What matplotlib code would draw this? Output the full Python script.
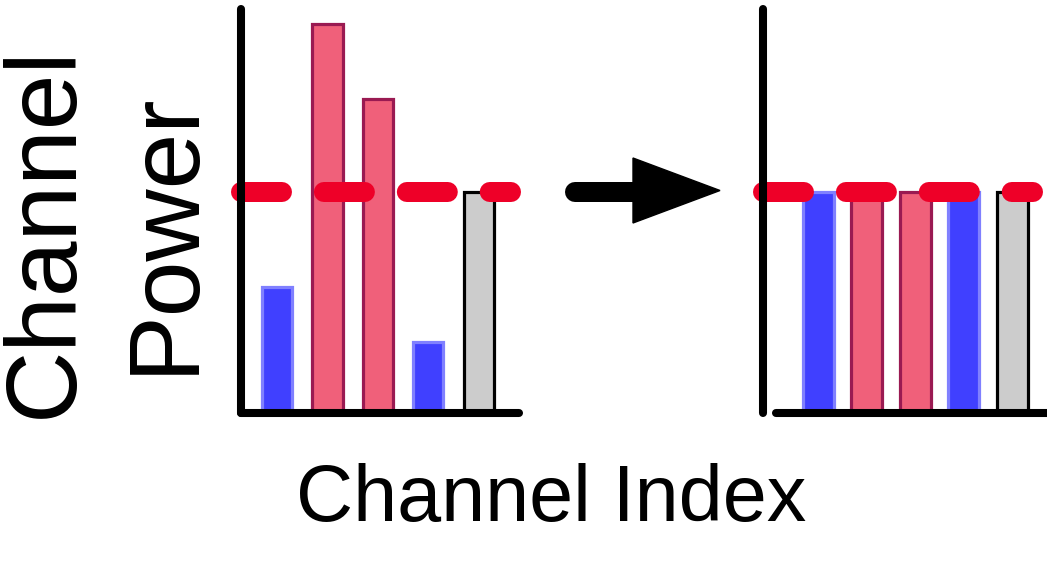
import numpy as np
import matplotlib
matplotlib.use("Agg")
import matplotlib.pyplot as plt
from matplotlib.lines import Line2D
from matplotlib.patches import Polygon

# data: channel power before / after equalisation (units: target level = 1)
channels = [0, 1, 2, 3, 4]
power_before = [0.57, 1.76, 1.42, 0.32, 1.0]
power_after = [1.0, 1.0, 1.0, 1.0, 1.0]
target_level = 1.0

face_cols = ["#4040ff", "#f0607a", "#f0607a", "#4040ff", "#cccccc"]
edge_cols = ["#8080ff", "#9a1a52", "#9a1a52", "#8080ff", "#000000"]

plt.rcParams["lines.scale_dashes"] = False
plt.rcParams["font.family"] = ["Liberation Sans", "DejaVu Sans"]

W, H = 1047, 563
fig = plt.figure(figsize=(W / 100, H / 100), dpi=100)


def px_axes(x0, x1, ytop, ybot):
    return fig.add_axes([x0 / W, 1 - ybot / H, (x1 - x0) / W, (ybot - ytop) / H])


def style(ax, xlim, line_end):
    ax.set_xlim(*xlim)
    ax.set_ylim(0, 1.828)
    for s in ["top", "right"]:
        ax.spines[s].set_visible(False)
    for s in ["left", "bottom"]:
        ax.spines[s].set_linewidth(5.8)
        ax.spines[s].set_capstyle("round")
        ax.spines[s].set_zorder(5)
    ax.set_xticks([])
    ax.set_yticks([])
    ax.hlines(target_level, xlim[0], line_end, colors="#ee0028", linewidth=14.4,
              linestyles=(0, (29.5, 30.2)), capstyle="round", zorder=4, clip_on=False)


# left panel
ax1 = px_axes(241, 519, 9, 413)
ax1.bar(channels, power_before, width=0.6, color=face_cols, edgecolor=edge_cols, linewidth=2.3)
style(ax1, (-0.713, 4.80), 4.65)

# right panel
ax2 = px_axes(763, 1052, 9, 413)
ax2.bar(channels, power_after, width=0.64, color=face_cols, edgecolor=edge_cols, linewidth=2.3)
style(ax2, (-1.134, 4.82), 4.43)
ax2.spines["bottom"].set_bounds(-0.86, 4.82)

# arrow between panels
fig.add_artist(Line2D([575 / W, 640 / W], [1 - 192 / H, 1 - 192 / H], color="black",
                      linewidth=14.4, solid_capstyle="round", transform=fig.transFigure))
fig.add_artist(Polygon([[633 / W, 1 - 158 / H], [720 / W, 1 - 190.5 / H], [633 / W, 1 - 223 / H]],
                       closed=True, color="black", transform=fig.transFigure))

fig.text(106 / W, 1 - 232 / H, "Channel\nPower", rotation=90, ha="center", va="center",
         multialignment="center", fontsize=72, linespacing=1.35)
fig.text(551.5 / W, 1 - 521 / H, "Channel Index", ha="center", va="baseline", fontsize=57)

fig.savefig("out.png", dpi=100)
